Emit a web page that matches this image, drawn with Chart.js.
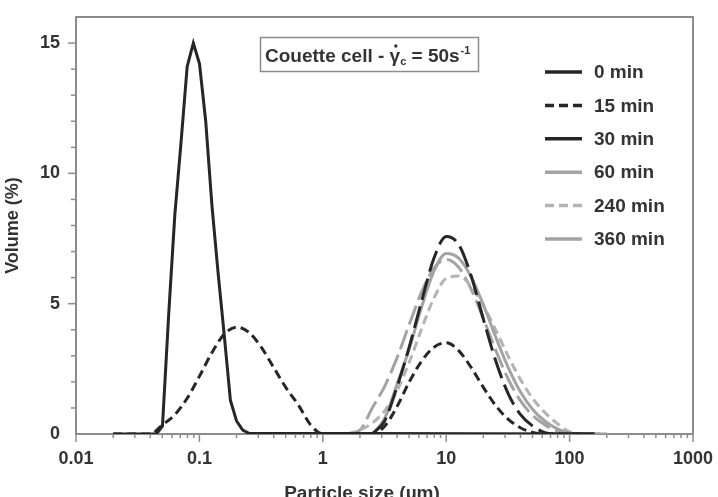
<!DOCTYPE html>
<html>
<head>
<meta charset="utf-8">
<script src="https://cdn.jsdelivr.net/npm/chart.js@4/dist/chart.umd.min.js"></script>
<style>
  html, body { margin: 0; padding: 0; background: #fff; }
</style>
</head>
<body>
<canvas id="chart" width="718" height="497"></canvas>
<script>
// particle sizes (um) for the 0 min run, finer bins around its peak
const sizes0 = [0.02, 0.0448, 0.0502, 0.0564, 0.0632, 0.0710, 0.0796, 0.0893, 0.1002, 0.1125,
  0.1262, 0.1416, 0.1589, 0.1783, 0.2000, 0.2244, 0.2518, 158.9];
const vol0 = [0, 0, 0.3, 4.6, 8.4, 11.2, 14.1, 15.0, 14.2, 12.0,
  8.8, 6.2, 3.8, 1.3, 0.5, 0.15, 0.03, 0];

// shared size bins (um) for the other runs
const sizes = [0.02, 0.0252, 0.0317, 0.0399, 0.0502, 0.0632, 0.0796, 0.1002, 0.1262, 0.1589,
  0.2, 0.2518, 0.317, 0.3991, 0.5024, 0.6325, 0.7962, 1.002, 1.262, 1.589,
  2.0, 2.518, 3.17, 3.991, 5.024, 6.325, 7.962, 10.02, 12.62, 15.89,
  20.0, 25.18, 31.7, 39.91, 50.24, 63.25, 79.62, 100.2, 126.2, 158.9, 200.0];

const vol15 = [0, 0, 0, 0, 0.35, 0.74, 1.37, 2.22, 3.12, 3.83,
  4.1, 3.9, 3.33, 2.56, 1.78, 1.12, 0.35, 0, 0, 0,
  0, 0, 0.3, 1.05, 2.0, 2.8, 3.33, 3.5, 3.2, 2.56,
  1.79, 1.09, 0.57, 0.24, 0.06, 0, 0, 0, 0, 0, null];
const vol30 = [null, null, null, null, null, null, null, null, null, null,
  null, null, null, null, null, null, null, null, null, null,
  null, 0, 0.5, 1.8, 3.35, 5.1, 6.75, 7.58, 7.27, 6.08,
  4.41, 2.81, 1.56, 0.75, 0.3, 0.05, 0, 0, 0, 0, null];
const vol60 = [null, null, null, null, null, null, null, null, null, null,
  null, null, null, null, null, null, null, null, null, null,
  null, 0, 0.6, 1.9, 3.27, 4.88, 6.25, 6.93, 6.75, 6.04,
  4.96, 3.72, 2.57, 1.62, 0.94, 0.49, 0.2, 0.03, 0, 0, 0];
const vol240 = [null, null, null, null, null, null, null, null, null, null,
  null, null, null, null, null, null, null, null, null, 0,
  0.15, 0.42, 0.89, 1.66, 2.76, 4.04, 5.22, 5.97, 6.06, 5.67,
  4.93, 3.99, 3.0, 2.1, 1.36, 0.82, 0.4, 0.08, 0, 0, 0];
const vol360 = [null, null, null, null, null, null, null, null, null, null,
  null, null, null, null, null, null, null, null, null, 0,
  0.15, 1.0, 1.83, 2.92, 4.21, 5.45, 6.37, 6.7, 6.4, 5.57,
  4.43, 3.22, 2.12, 1.28, 0.71, 0.35, 0.12, 0.02, 0, 0, 0];

const xTicks = [0.01, 0.1, 1, 10, 100, 1000];
const xTickLabels = ["0.01", "0.1", "1", "10", "100", "1000"];
const yTicks = [0, 5, 10, 15];
const yTickLabels = ["0", "5", "10", "15"];

const FONT = "'Liberation Sans', Arial, sans-serif";
const TEXT = "#333333";
const AXIS = "#8c8c8c";
const BLACK = "#262626";
const GREY = "#a3a3a3";
const LIGHT = "#b3b3b3";

const pts = (xs, ys) => xs.map((x, i) => ({ x: x, y: ys[i] }));

const decor = {
  id: "decor",
  afterDraw(chart) {
    const { ctx, chartArea: a, scales: { x, y } } = chart;
    ctx.save();
    const seg = (x1, y1, x2, y2) => {
      ctx.beginPath();
      ctx.moveTo(x1, y1);
      ctx.lineTo(x2, y2);
      ctx.stroke();
    };

    // frame top and right
    ctx.strokeStyle = AXIS;
    ctx.lineWidth = 2;
    ctx.beginPath();
    ctx.moveTo(a.left, a.top);
    ctx.lineTo(a.right, a.top);
    ctx.lineTo(a.right, a.bottom);
    ctx.stroke();

    // tick marks
    ctx.lineWidth = 1.5;
    xTicks.forEach((v, i) => {
      const px = x.getPixelForValue(v);
      seg(px, a.bottom, px, a.bottom + 8);
      if (i < xTicks.length - 1) {
        for (let k = 2; k <= 9; k++) {
          const mx = x.getPixelForValue(v * k);
          seg(mx, a.bottom, mx, a.bottom + 4);
        }
      }
    });
    for (let v = 1; v < 16; v++) {
      const py = y.getPixelForValue(v);
      if (v % 5 === 0) seg(a.left - 8, py, a.left, py);
      else seg(a.left - 5, py, a.left, py);
    }

    // legend
    ctx.font = "bold 19px " + FONT;
    ctx.textBaseline = "middle";
    ctx.textAlign = "left";
    chart.data.datasets.forEach((ds, i) => {
      const ly = 72 + i * 33.4;
      ctx.strokeStyle = ds.borderColor;
      ctx.lineWidth = 3.5;
      ctx.setLineDash(ds.legendDash || ds.borderDash || []);
      seg(545, ly, 582, ly);
      ctx.setLineDash([]);
      ctx.fillStyle = TEXT;
      ctx.fillText(ds.label, 594, ly + 1);
    });

    // annotation box
    ctx.strokeStyle = AXIS;
    ctx.lineWidth = 1.5;
    ctx.strokeRect(260.5, 37.5, 218, 34);
    ctx.fillStyle = TEXT;
    ctx.textBaseline = "alphabetic";
    const big = "bold 19px " + FONT;
    const small = "bold 11px " + FONT;
    let tx = 265;
    const ty = 62;
    ctx.font = big;
    ctx.fillText("Couette cell - ", tx, ty);
    tx += ctx.measureText("Couette cell - ").width;
    ctx.fillText("\u03B3", tx, ty);
    const gw = ctx.measureText("\u03B3").width;
    ctx.beginPath();
    ctx.arc(tx + gw / 2 + 1, ty - 16, 1.7, 0, Math.PI * 2);
    ctx.fill();
    tx += gw;
    ctx.font = small;
    ctx.fillText("c", tx, ty + 3);
    tx += ctx.measureText("c").width;
    ctx.font = big;
    ctx.fillText(" = 50s", tx, ty);
    tx += ctx.measureText(" = 50s").width;
    ctx.font = small;
    ctx.fillText("-1", tx + 1, ty - 8);

    // x axis title, cut by the bottom edge
    ctx.font = big;
    ctx.textAlign = "center";
    ctx.fillText("Particle size (\u00B5m)", 362, 499);
    ctx.restore();
  }
};

new Chart(document.getElementById("chart"), {
  type: "line",
  data: {
    datasets: [
      { label: "0 min", data: pts(sizes0, vol0), borderColor: BLACK, borderWidth: 3, tension: 0 },
      { label: "15 min", data: pts(sizes, vol15), borderColor: BLACK, borderWidth: 3, borderDash: [9, 5],
        cubicInterpolationMode: "monotone" },
      { label: "30 min", data: pts(sizes, vol30), borderColor: BLACK, borderWidth: 3, borderDash: [22, 7],
        legendDash: [], cubicInterpolationMode: "monotone" },
      { label: "60 min", data: pts(sizes, vol60), borderColor: GREY, borderWidth: 3,
        cubicInterpolationMode: "monotone" },
      { label: "240 min", data: pts(sizes, vol240), borderColor: LIGHT, borderWidth: 3, borderDash: [9, 5],
        cubicInterpolationMode: "monotone" },
      { label: "360 min", data: pts(sizes, vol360), borderColor: GREY, borderWidth: 3, borderDash: [20, 6],
        legendDash: [], cubicInterpolationMode: "monotone" }
    ]
  },
  options: {
    responsive: false,
    animation: false,
    layout: { padding: { top: 17, right: 25, bottom: 0, left: 0 } },
    elements: { point: { radius: 0 } },
    plugins: {
      legend: { display: false },
      tooltip: { enabled: false }
    },
    scales: {
      x: {
        type: "logarithmic",
        min: 0.01,
        max: 1000,
        grid: { display: false, drawTicks: false },
        border: { display: true, color: AXIS, width: 2 },
        ticks: {
          padding: 14,
          color: TEXT,
          font: { family: FONT, size: 18, weight: "bold" },
          autoSkip: false,
          maxRotation: 0,
          callback: (v, i) => xTickLabels[i]
        },
        afterBuildTicks: s => { s.ticks = xTicks.map(v => ({ value: v })); },
        afterFit: s => { s.height = 63; s.paddingLeft = 0; s.paddingRight = 0; }
      },
      y: {
        type: "linear",
        min: 0,
        max: 16,
        grid: { display: false, drawTicks: false },
        border: { display: true, color: AXIS, width: 2 },
        ticks: {
          padding: 16,
          color: TEXT,
          font: { family: FONT, size: 18, weight: "bold" },
          callback: (v, i) => yTickLabels[i]
        },
        title: {
          display: true,
          text: "Volume (%)",
          color: TEXT,
          font: { family: FONT, size: 18, weight: "bold" },
          padding: { top: 2, bottom: 0 }
        },
        afterBuildTicks: s => { s.ticks = yTicks.map(v => ({ value: v })); },
        afterFit: s => { s.width = 76; s.paddingTop = 0; s.paddingBottom = 0; }
      }
    }
  },
  plugins: [decor]
});
</script>
</body>
</html>
